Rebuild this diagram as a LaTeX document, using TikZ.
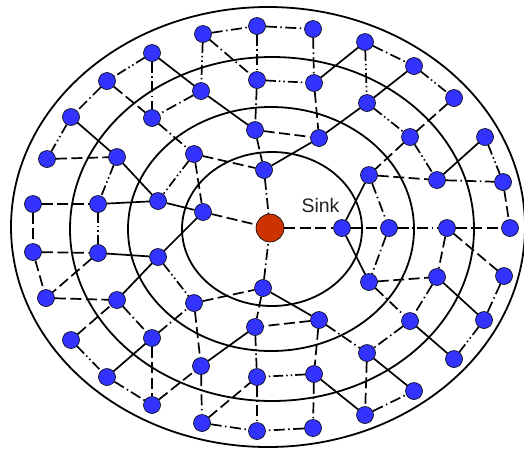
\documentclass[tikz,border=0pt]{standalone}
\usepackage{fontspec}
\setmainfont{Liberation Sans}
\usetikzlibrary{positioning}
\definecolor{nodeblue}{HTML}{3333FF}
\definecolor{sinkred}{HTML}{CC3300}
\definecolor{textdark}{HTML}{222222}

\begin{document}
\begin{tikzpicture}[x=1pt,y=-1pt,
  sensor/.style={circle,draw=black,line width=0.6pt,fill=nodeblue,minimum size=17pt,inner sep=0pt},
  sinknode/.style={circle,draw=black,line width=0.6pt,fill=sinkred,minimum size=28pt,inner sep=0pt},
  ring/.style={draw=black,line width=1.8pt},
  link/.style={line width=1.7pt},
  dashlink/.style={link,dash pattern=on 11pt off 4.5pt},
  dotlink/.style={link,dash pattern=on 11pt off 3.5pt on 1.5pt off 3.5pt},
  dotdotlink/.style={link,dash pattern=on 10pt off 3pt on 1.5pt off 3pt on 1.5pt off 3pt}]
  \useasboundingbox (0,0) rectangle (524,448);
  \fill[white] (0,0) rectangle (524,448);

  \draw[ring] (272,229) ellipse [x radius=90pt,y radius=77pt];
  \draw[ring] (271,229) ellipse [x radius=143pt,y radius=122pt];
  \draw[ring] (272,229) ellipse [x radius=202pt,y radius=172pt];
  \draw[ring] (268,227) ellipse [x radius=257pt,y radius=220pt];

  \node[sinknode] (sink) at (270,228) {};
  \node[anchor=base west,text=textdark,font=\fontsize{19.5}{22}\selectfont] (sinklabel) at (298,212.5) {Sink};

  \foreach \n/\x/\y in {a1/264/170, a2/203/212, a3/342/228, a4/263/288,
      b1/255/130, b2/319/138, b3/194/154, b4/158/201, b5/158/257, b6/194/303,
      b7/255/327, b8/319/320, b9/369/175, b10/389/228, b11/369/282,
      c1/201/91, c2/257/80, c3/314/83, c4/367/103, c5/152/118, c6/117/157,
      c7/98/204, c8/98/253, c9/117/300, c10/152/338, c11/201/366, c12/257/377,
      c13/314/374, c14/367/353, c15/410/137, c16/437/180, c17/447/228,
      c18/437/277, c19/410/321,
      d1/203/34, d2/257/26, d3/313/29, d4/365/42, d5/414/66, d6/454/98,
      d7/485/137, d8/503/182, d9/510/228, d10/504/276, d11/484/320,
      d12/454/359, d13/414/391, d14/365/415, d15/313/428, d16/257/431,
      d17/202/423, d18/152/405, d19/107/377, d20/71/340, d21/46/298,
      d22/33/252, d23/33/204, d24/47/159, d25/71/117, d26/107/81, d27/152/53}
    \node[sensor] (\n) at (\x,\y) {};

  \foreach \s/\t in {d27/c1, d25/c6, c6/b4, c1/b1, c7/b4, b4/a2, a1/b2, c3/d4,
      d5/c4, b2/c4, d7/c16, b9/a3, a3/b11, c18/d11, c19/d12, a4/b8, c14/d13,
      c13/d14, c8/b5, b5/a2, b5/c9, c10/d19, c11/b7}
    \draw[link] (\s) -- (\t);

  \foreach \s/\t in {d26/c5, d24/c6, b3/a2, b3/a1, b1/a1, b1/b2, d23/c7, d23/d22,
      a2/sink, c3/b2, d6/c15, c15/b9, b9/c16, d8/d9, sink/a3, a3/b10, c17/d9,
      c17/c18, c17/d10, b11/c18, b8/b7, b8/c13, c14/d14, d22/c8, d22/d21,
      c8/d21, d21/c9, d20/c9, c10/d18, b6/a4, b6/c11, d18/c11, d17/c12, a4/b7}
    \draw[dashlink] (\s) -- (\t);

  \foreach \s/\t in {d1/d2, d1/c2, d2/c2, d2/d3, d27/c5, d26/d25, c1/c5, c5/b3,
      c2/b1, a1/sink, d3/c3, d4/d5, c16/d8, b9/b10, b10/c17, b10/b11, b11/c19,
      c18/c19, d10/d11, c19/c14, a4/sink, b8/c14, d14/d13, c13/d15, d15/d16,
      c9/c10, c10/b6, d19/d18, c11/d17, d17/d16, c12/d16}
    \draw[dotlink] (\s) -- (\t);

  \foreach \s/\t in {d1/c1, d27/d26, d25/d24, c6/c7, b3/b4, c2/c3, c7/c8, d5/d6,
      c15/c16, d7/d8, d11/d12, c13/c12, d20/d19, b7/c12, b5/b6, d4/c4, c4/c15}
    \draw[dotdotlink] (\s) -- (\t);
\end{tikzpicture}
\end{document}
